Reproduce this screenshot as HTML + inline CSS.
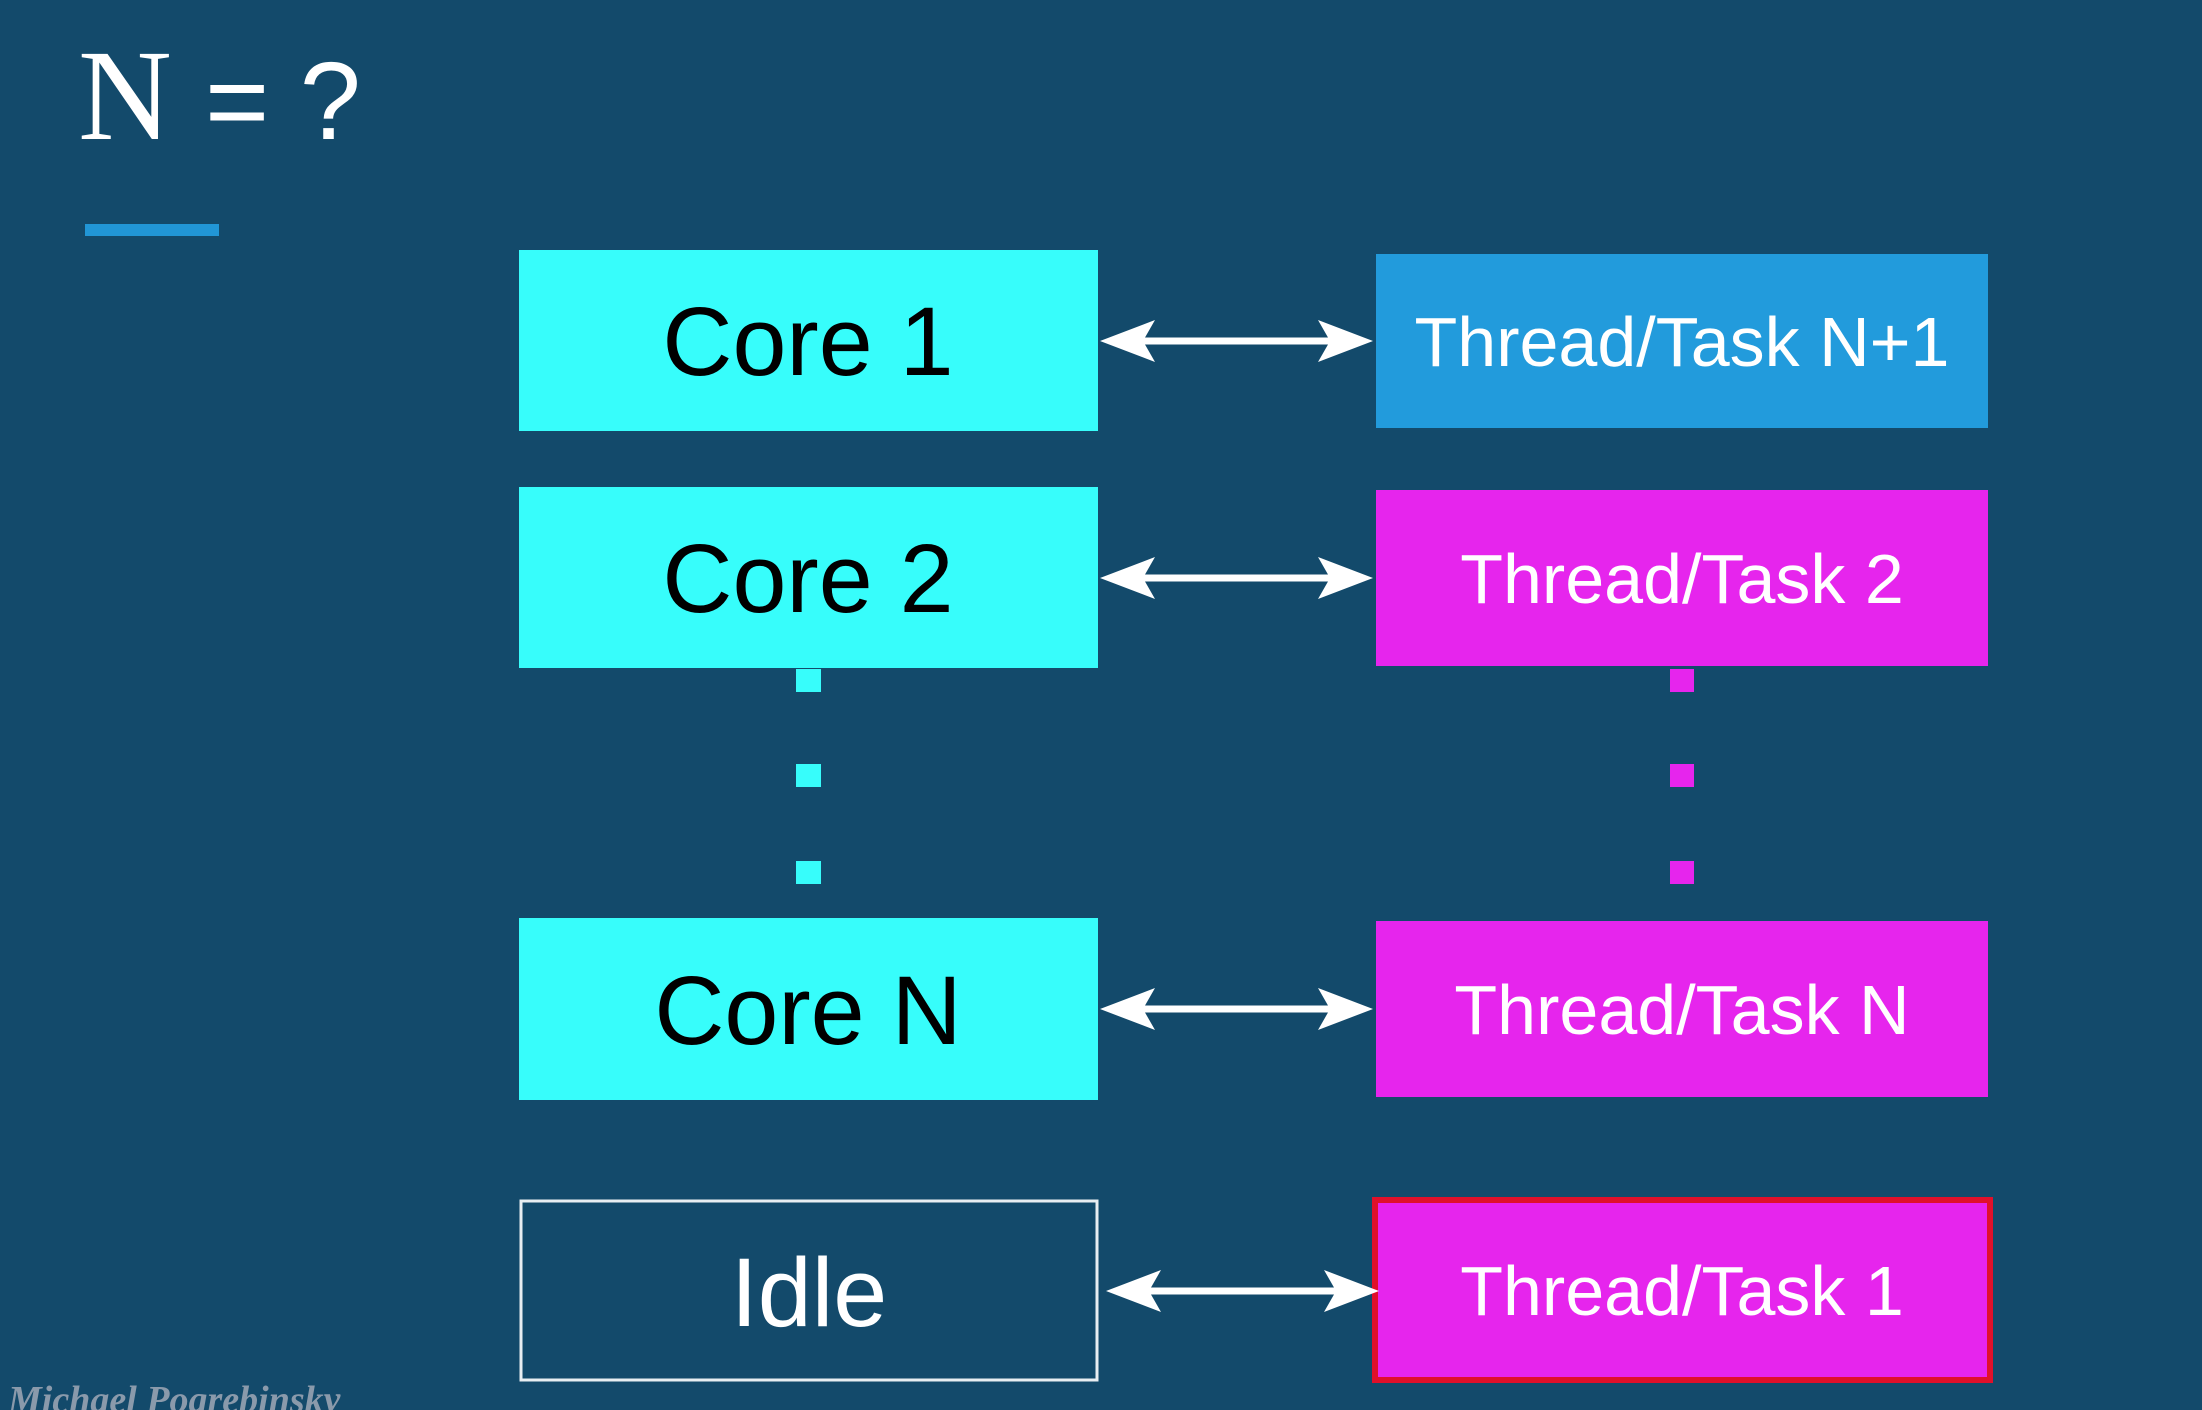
<!DOCTYPE html>
<html><head><meta charset="utf-8"><style>
html,body{margin:0;padding:0;background:#134a6b;}
svg{display:block;}
</style></head><body>
<svg width="2202" height="1410" viewBox="0 0 2202 1410" xmlns="http://www.w3.org/2000/svg">
<rect width="2202" height="1410" fill="#134a6b"/>
<text x="78" y="139" font-family="Liberation Serif, serif" font-size="130" fill="#fff">N</text>
<text x="205" y="139" font-family="Liberation Sans, sans-serif" font-size="110" fill="#fff">= ?</text>
<rect x="85" y="224" width="134" height="12" fill="#2196d6"/>

<g font-family="Liberation Sans, sans-serif" text-anchor="middle">
<rect x="519" y="250" width="579" height="181" fill="#37fdfb"/>
<text x="808" y="375" font-size="97" fill="#000">Core 1</text>
<rect x="519" y="487" width="579" height="181" fill="#37fdfb"/>
<text x="808" y="612" font-size="97" fill="#000">Core 2</text>
<rect x="519" y="918" width="579" height="182" fill="#37fdfb"/>
<text x="808" y="1044" font-size="97" fill="#000">Core N</text>
<rect x="521" y="1201" width="576" height="179" fill="none" stroke="#e8eef2" stroke-width="3"/>
<text x="809" y="1326" font-size="97" fill="#fff">Idle</text>

<rect x="1376" y="254" width="612" height="174" fill="#229bdc"/>
<text x="1682" y="366" font-size="70" fill="#fff">Thread/Task N+1</text>
<rect x="1376" y="490" width="612" height="176" fill="#e625ed"/>
<text x="1682" y="603" font-size="70" fill="#fff">Thread/Task 2</text>
<rect x="1376" y="921" width="612" height="176" fill="#e625ed"/>
<text x="1682" y="1034" font-size="70" fill="#fff">Thread/Task N</text>
<rect x="1375" y="1200" width="615" height="180" fill="#e625ed" stroke="#e0102a" stroke-width="6"/>
<text x="1682" y="1315" font-size="70" fill="#fff">Thread/Task 1</text>
</g>

<g fill="#37fdfb">
<rect x="796" y="669" width="25" height="23"/>
<rect x="796" y="764" width="25" height="23"/>
<rect x="796" y="861" width="25" height="23"/>
</g>
<g fill="#e625ed">
<rect x="1670" y="669" width="24" height="23"/>
<rect x="1670" y="764" width="24" height="23"/>
<rect x="1670" y="861" width="24" height="23"/>
</g>

<defs>
<g id="arr">
<rect x="1130" y="-3.5" width="215" height="7" fill="#fff"/>
<polygon points="0,0 55,-21 43,0 55,21" fill="#fff" transform="translate(1100,0)"/>
<polygon points="0,0 -55,-21 -43,0 -55,21" fill="#fff" transform="translate(1373,0)"/>
</g>
</defs>
<use href="#arr" transform="translate(0,341)"/>
<use href="#arr" transform="translate(0,578)"/>
<use href="#arr" transform="translate(0,1009)"/>
<use href="#arr" transform="translate(6,1291)"/>

<text x="8" y="1412" font-family="Liberation Serif, serif" font-style="italic" font-weight="bold" font-size="38" fill="#8a9aab">Michael Pogrebinsky</text>
</svg>
</body></html>
